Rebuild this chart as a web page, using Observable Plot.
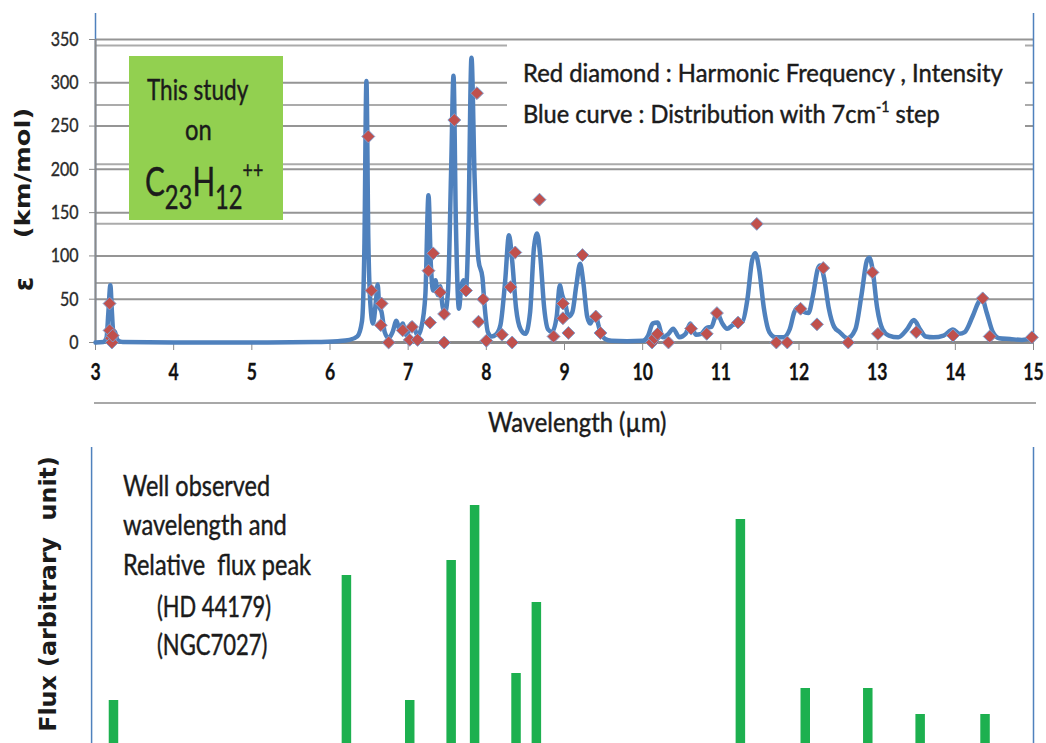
<!DOCTYPE html>
<html><head><meta charset="utf-8">
<script src="https://cdn.jsdelivr.net/npm/d3@7"></script>
<script src="https://cdn.jsdelivr.net/npm/@observablehq/plot@0.6"></script>
<style>
body{margin:0;background:#fff;}
#wrap{position:relative;width:1046px;height:743px;overflow:hidden;background:#fff;font-family:Lato,sans-serif;}
#top,#bot{position:absolute;left:0;}
#top{top:0;} #bot{top:440px;}
.lab{position:absolute;white-space:pre;color:#1b1b1b;line-height:1;-webkit-text-stroke:0.45px #1b1b1b;}
.box{position:absolute;}
#top svg [aria-label^="x-axis"] text{font-size:22px;font-weight:700;fill:#111;stroke:#111;stroke-width:0.3px;}
#top svg [aria-label^="y-axis"] text{font-size:20px;fill:#2a2a2a;stroke:#2a2a2a;stroke-width:0.4px;}
</style></head><body>
<div id="wrap"><div id="top"></div><div id="bot"></div></div>
<script>
// ---- data ----
const xTicks = [3,4,5,6,7,8,9,10,11,12,13,14,15];
const yTicks = [0,50,100,150,200,250,300,350];
const gridB = [68.6,137.2,205.8,274.4,343];

// blue curve (distribution, 7 cm-1 step): wavelength (µm), epsilon (km/mol)
const curveWl = [3.00,3.10,3.14,3.165,3.19,3.21,3.225,3.25,3.28,3.35,4.0,5.0,5.8,6.1,6.25,6.35,6.41,6.44,6.466,6.49,6.52,6.55,6.59,6.61,6.63,6.66,6.70,6.75,6.80,6.85,6.89,6.93,6.97,7.00,7.04,7.08,7.12,7.17,7.22,7.26,7.29,7.32,7.35,7.38,7.41,7.44,7.47,7.51,7.55,7.58,7.61,7.65,7.68,7.71,7.74,7.77,7.81,7.85,7.90,7.95,7.98,8.02,8.07,8.12,8.18,8.24,8.29,8.33,8.38,8.44,8.50,8.56,8.61,8.65,8.69,8.74,8.79,8.84,8.90,8.94,8.97,9.01,9.05,9.10,9.15,9.20,9.24,9.29,9.33,9.39,9.45,9.52,9.6,9.8,10.0,10.07,10.13,10.19,10.26,10.33,10.39,10.47,10.55,10.61,10.68,10.75,10.82,10.88,10.95,11.02,11.08,11.15,11.21,11.28,11.34,11.40,11.44,11.49,11.55,11.62,11.70,11.80,11.88,11.94,11.99,12.05,12.12,12.18,12.24,12.27,12.32,12.38,12.45,12.52,12.62,12.72,12.80,12.87,12.90,12.94,13.00,13.07,13.15,13.27,13.38,13.47,13.55,13.62,13.72,13.85,13.97,14.05,14.12,14.22,14.30,14.34,14.40,14.48,14.56,14.7,14.85,15.0];
const curveEps = [0,0.5,5,35,66,35,15,12,3,0.5,0,0,0.5,1.5,3,7,25,110,302,120,40,22,50,67,42,35,12,5,12,25,15,22,9,12,22,17,8,18,55,170,90,60,72,55,65,42,34,60,200,308,140,39,65,72,62,130,329,190,95,75,40,12,7,9,20,70,124,95,40,15,10,35,110,126,100,40,15,12,30,66,55,45,30,35,65,91,70,30,22,33,15,4,2,1.5,2,8,22,23,6,10,16,6,10,22,9,10,17,18,34,22,16,20,23,25,50,95,103,85,40,12,6,6,15,35,41,36,34,55,85,89,75,40,18,12,5,15,55,95,98,85,40,15,8,6,15,26,15,7,6,8,15,10,12,30,47,51,35,12,5,4,3,5];

// red diamonds (harmonic frequency, intensity)
const diaWl = [3.18,3.18,3.20,3.21,3.22,6.49,6.53,6.66,6.65,6.75,6.93,7.02,7.05,7.12,7.26,7.28,7.32,7.41,7.46,7.46,7.59,7.74,7.88,7.90,7.96,8.00,8.20,8.31,8.33,8.37,8.68,8.86,8.98,8.98,9.05,9.23,9.40,9.46,10.12,10.15,10.19,10.33,10.62,10.82,10.95,11.22,11.46,11.71,11.85,12.02,12.23,12.31,12.63,12.94,13.01,13.50,13.97,14.35,14.44,14.98];
const diaEps = [45,14,5,0,8,238,60,45,20,0,14,3,18,3,83,23,103,58,33,0,257,60,288,24,50,2,9,64,0,104,165,7,45,28,11,101,30,11,0,5,10,0,16,10,34,23,137,0,0,39,21,86,0,81,10,12,8,51,7,6];

// observed bands (HD 44179 / NGC7027): wavelength (µm), relative flux (arbitrary)
const obsWl = [3.23,6.21,7.02,7.55,7.85,8.38,8.64,11.25,12.08,12.88,13.55,14.38];
const obsFlux = [43,168,43,183,238,70,141,224,55,55,29,29];

// ---- layout constants ----
const W = 1046;
const BLUE = "#4f81bd", RED = "#c0504d", GREEN = "#1db04f", BOXGREEN = "#92d050";
const frameTop = 380;   // top of blue frame lines (in y units)

const curve = curveWl.map((x, i) => ({x, y: curveEps[i]}));
const dias = diaWl.map((x, i) => ({x, y: diaEps[i]}));
const bars = obsWl.map((x, i) => ({x, y: obsFlux[i]}));

const topPlot = Plot.plot({
  width: W, height: 440,
  marginLeft: 95, marginRight: 13, marginTop: 39, marginBottom: 98,
  style: {background: "transparent", fontFamily: "Lato, sans-serif", color: "#8a8a8a", overflow: "visible"},
  x: {domain: [3, 15], ticks: xTicks, tickSize: 8, tickPadding: 14, label: null, tickFormat: d => String(d)},
  y: {domain: [0, 350], ticks: yTicks, tickSize: 6, tickPadding: 11, label: null},
  marks: [
    Plot.ruleY(gridB, {stroke: "#ababab", strokeWidth: 2}),
    Plot.ruleY(yTicks.filter(v => v > 0), {stroke: "#959595", strokeWidth: 2}),
    Plot.ruleX([3, 15], {y1: 0, y2: frameTop, stroke: BLUE, strokeWidth: 1.5}),
    Plot.ruleX([3], {y1: -3, y2: 350, stroke: "#8a8a8a", strokeWidth: 2}),
    Plot.ruleY([0], {stroke: "#8a8a8a", strokeWidth: 3}),
    Plot.line(curve, {x: "x", y: "y", stroke: BLUE, strokeWidth: 4.5, curve: "monotone-x", strokeLinejoin: "round"}),
    Plot.dot(dias, {x: "x", y: "y", symbol: "diamond2", r: 5.8, fill: RED, stroke: "#7f9ccc", strokeWidth: 1})
  ]
});
document.getElementById("top").appendChild(topPlot);

const botPlot = Plot.plot({
  width: W, height: 303,
  marginLeft: 95, marginRight: 13, marginTop: 0, marginBottom: 0,
  style: {background: "transparent", overflow: "visible"},
  x: {domain: [3, 15], axis: null},
  y: {domain: [0, 303], axis: null},
  marks: [
    Plot.ruleX([2.95, 15], {y1: 0, y2: 296, stroke: BLUE, strokeWidth: 1.5}),
    Plot.ruleX(bars, {x: "x", y1: 0, y2: "y", stroke: GREEN, strokeWidth: 9.5})
  ]
});
document.getElementById("bot").appendChild(botPlot);

// squeeze axis tick labels horizontally (reference text is condensed)
function squeeze(svg, k) {
  svg.querySelectorAll('[aria-label^="x-axis"] text, [aria-label^="y-axis"] text').forEach(t => {
    const ax = (parseFloat(t.getAttribute("x")) || 0);
    const tr = t.getAttribute("transform") || "";
    t.setAttribute("transform", `${tr} translate(${ax},0) scale(${k},1) translate(${-ax},0)`);
  });
}
squeeze(topPlot, 0.8);

// ---- annotation boxes and text ----
const wrap = document.getElementById("wrap");
function box(x, y, w, h, bg) {
  const d = document.createElement("div");
  d.className = "box";
  Object.assign(d.style, {left: x + "px", top: y + "px", width: w + "px", height: h + "px", background: bg});
  wrap.appendChild(d);
}
function label(html, o) {
  const d = document.createElement("div");
  d.className = "lab";
  d.innerHTML = html;
  Object.assign(d.style, {fontSize: o.size + "px", fontWeight: o.weight || 400, fontFamily: o.family || "Lato, sans-serif", color: o.color || "#1b1b1b"});
  if (o.weight) d.style.webkitTextStroke = "0px";
  wrap.appendChild(d);
  const w = d.offsetWidth, h = d.offsetHeight;
  const sx = o.width ? o.width / w : (o.sx || 1);
  if (o.rotate) {
    d.style.left = (o.cx - w / 2) + "px";
    d.style.top = (o.cy - h / 2) + "px";
    d.style.transformOrigin = "50% 50%";
    d.style.transform = `rotate(-90deg) scale(${sx},${o.sy || 1})`;
  } else {
    const left = o.cx !== undefined ? o.cx - w * sx / 2 : o.x;
    d.style.left = left + "px";
    d.style.top = (o.cy - h / 2) + "px";
    d.style.transformOrigin = "0 50%";
    d.style.transform = `scaleX(${sx})`;
  }
}

// top panel decorations
box(507, 42, 518, 120, "#fff");
box(129, 56, 154, 164, BOXGREEN);
box(94, 402, 942, 2, "#a8a8a8");

label("Red diamond : Harmonic Frequency , Intensity", {x: 523, cy: 72, size: 25, width: 480});
label('Blue curve : Distribution with 7cm<span style="font-size:0.6em;position:relative;top:-0.7em">-1</span> step', {x: 523, cy: 113, size: 25, width: 417});

label("This study", {cx: 197, cy: 88, size: 29, width: 101});
label("on", {cx: 198, cy: 128, size: 29, width: 27});
label('C<span style="font-size:0.8em;position:relative;top:0.4em">23</span>H<span style="font-size:0.8em;position:relative;top:0.4em">12</span><span style="font-size:0.6em;position:relative;top:-0.75em">++</span>', {cx: 204, cy: 181, size: 40, width: 118});

label("Wavelength (µm)", {cx: 577, cy: 421, size: 27, width: 178});

label("(km/mol)", {rotate: true, cx: 23, cy: 173, size: 22, weight: 700, family: "DejaVu Sans, sans-serif", width: 130, sy: 0.95});
label("ε", {rotate: true, cx: 24, cy: 284, size: 26, weight: 700, family: "DejaVu Sans, sans-serif", width: 14, sy: 1});

// bottom panel text
label("Flux (arbitrary  unit)", {rotate: true, cx: 48, cy: 594, size: 24, weight: 700, family: "DejaVu Sans, sans-serif", width: 275, sy: 0.95});
label("Well observed", {x: 123, cy: 484, size: 29, width: 147});
label("wavelength and", {x: 123, cy: 523, size: 29, width: 164});
label("Relative  flux peak", {x: 123, cy: 563, size: 29, width: 188});
label("(HD 44179)", {x: 157, cy: 605, size: 29, width: 114});
label("(NGC7027)", {x: 157, cy: 643, size: 29, width: 110});
</script>
</body></html>
